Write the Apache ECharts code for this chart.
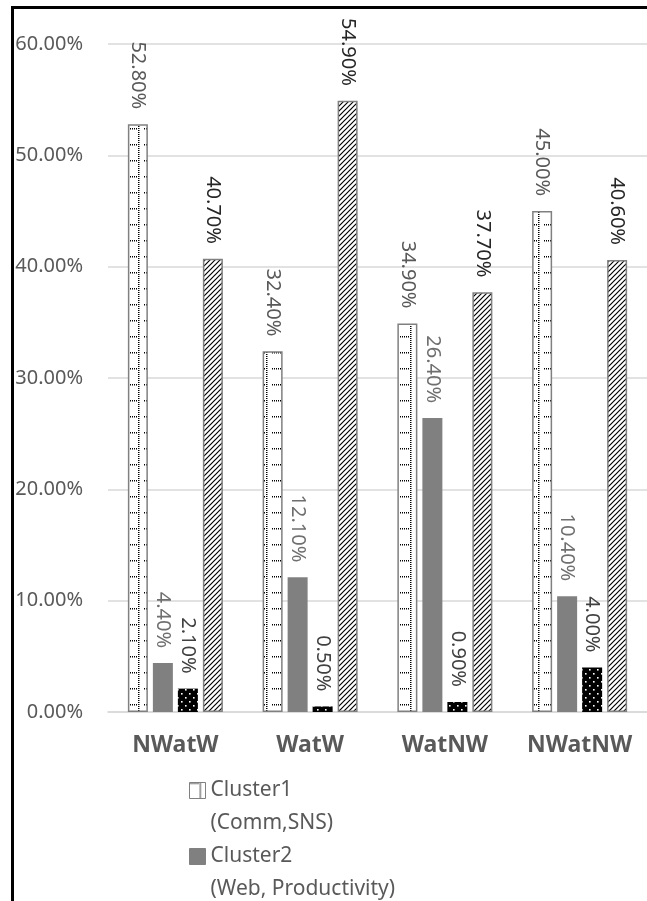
<!DOCTYPE html>
<html>
<head>
<meta charset="utf-8">
<script src="https://cdn.jsdelivr.net/npm/echarts@6/dist/echarts.min.js"></script>
<style>
html,body{margin:0;padding:0;background:#fff;}
#chart{width:647px;height:901px;}
</style>
</head>
<body>
<div id="chart"></div>
<script>
const categories = ['NWatW', 'WatW', 'WatNW', 'NWatNW'];
const seriesNames = ['Cluster1', 'Cluster2', 'Cluster3', 'Cluster4'];
const legendSubtitles = ['(Comm,SNS)', '(Web, Productivity)', '', ''];
const cluster1 = [52.8, 32.4, 34.9, 45.0];
const cluster2 = [4.4, 12.1, 26.4, 10.4];
const cluster3 = [2.1, 0.5, 0.9, 4.0];
const cluster4 = [40.7, 54.9, 37.7, 40.6];
const yMin = 0, yMax = 60, yStep = 10;

function makePattern(w, h, draw) {
  const c = document.createElement('canvas');
  c.width = w; c.height = h;
  const ctx = c.getContext('2d');
  draw(ctx, w, h);
  return { image: c, repeat: 'repeat' };
}
const gridDots = makePattern(16, 16, (ctx, w, h) => {
  ctx.fillStyle = '#fff'; ctx.fillRect(0, 0, w, h);
  ctx.fillStyle = '#000';
  for (let y = 0; y < h; y += 2) ctx.fillRect(10, y, 1.5, 1);
  for (let x = 0; x < 10; x += 2) ctx.fillRect(x, 0, 1, 1.5);
});
const confetti = makePattern(8, 8, (ctx, w, h) => {
  ctx.fillStyle = '#000'; ctx.fillRect(0, 0, w, h);
  ctx.fillStyle = '#fff';
  ctx.fillRect(1, 1, 1.6, 1.6);
  ctx.fillRect(5, 5, 1.6, 1.6);
});
const hatch = makePattern(5, 5, (ctx, w, h) => {
  ctx.fillStyle = '#fff'; ctx.fillRect(0, 0, w, h);
  ctx.strokeStyle = '#000'; ctx.lineWidth = 1.2;
  ctx.beginPath();
  ctx.moveTo(-1, 6); ctx.lineTo(6, -1);
  ctx.moveTo(-4, 4); ctx.lineTo(4, -4);
  ctx.moveTo(1, 9); ctx.lineTo(9, 1);
  ctx.stroke();
});

const fonts = '"Noto Sans", "Open Sans", sans-serif';
const styles = [
  { color: gridDots, borderColor: '#808080', borderWidth: 1.5, label: '#595959' },
  { color: '#808080', borderColor: '#808080', borderWidth: 0, label: '#6f6f6f' },
  { color: confetti, borderColor: '#000', borderWidth: 0, label: '#404040' },
  { color: hatch, borderColor: '#808080', borderWidth: 1.5, label: '#262626' }
];
const values = [cluster1, cluster2, cluster3, cluster4];

// legend icon: 16x16 square at the top of a taller (invisible) box so it lines up with the first text line
const legendIcon = 'path://M0,0L16,0L16,16L0,16Z M0,49L0,49';

const chart = echarts.init(document.getElementById('chart'));
chart.setOption({
  backgroundColor: '#fff',
  animation: false,
  textStyle: { fontFamily: fonts },
  graphic: [{
    type: 'rect', z: 100, silent: true,
    shape: { x: 12.5, y: 7.5, width: 800, height: 1100 },
    style: { fill: 'none', stroke: '#000', lineWidth: 3 }
  }],
  grid: { left: 108, top: 44, width: 544, height: 668 },
  legend: {
    orient: 'vertical',
    left: 184, top: 769, height: 400,
    itemWidth: 16, itemHeight: 49, itemGap: 0,
    icon: legendIcon,
    itemStyle: { borderWidth: 1 },
    data: [seriesNames[0], seriesNames[1]],
    formatter: name => name + '\n' + legendSubtitles[seriesNames.indexOf(name)],
    textStyle: { color: '#595959', fontSize: 21, lineHeight: 33, fontFamily: fonts }
  },
  xAxis: {
    type: 'category', data: categories,
    axisLine: { lineStyle: { color: '#d9d9d9', width: 1.5 } },
    axisTick: { show: false },
    axisLabel: { interval: 0, color: '#595959', fontSize: 23, fontWeight: 'bold', margin: 22, fontFamily: fonts }
  },
  yAxis: {
    type: 'value', min: yMin, max: yMax, interval: yStep,
    axisLine: { show: false }, axisTick: { show: false },
    splitLine: { lineStyle: { color: '#d9d9d9', width: 1.5 } },
    axisLabel: {
      color: '#595959', fontSize: 20, margin: 25, fontFamily: fonts,
      formatter: v => v.toFixed(2) + '%'
    }
  },
  series: values.map((vals, i) => ({
    name: seriesNames[i],
    type: 'bar',
    data: vals,
    barWidth: 20,
    barGap: '25%',
    itemStyle: {
      color: styles[i].color,
      borderColor: styles[i].borderColor,
      borderWidth: styles[i].borderWidth
    },
    label: {
      show: true,
      position: 'top',
      distance: 15,
      rotate: -90,
      align: 'right',
      verticalAlign: 'middle',
      color: styles[i].label,
      fontSize: 20,
      fontFamily: fonts,
      formatter: p => p.value.toFixed(2) + '%'
    }
  }))
});
</script>
</body>
</html>
